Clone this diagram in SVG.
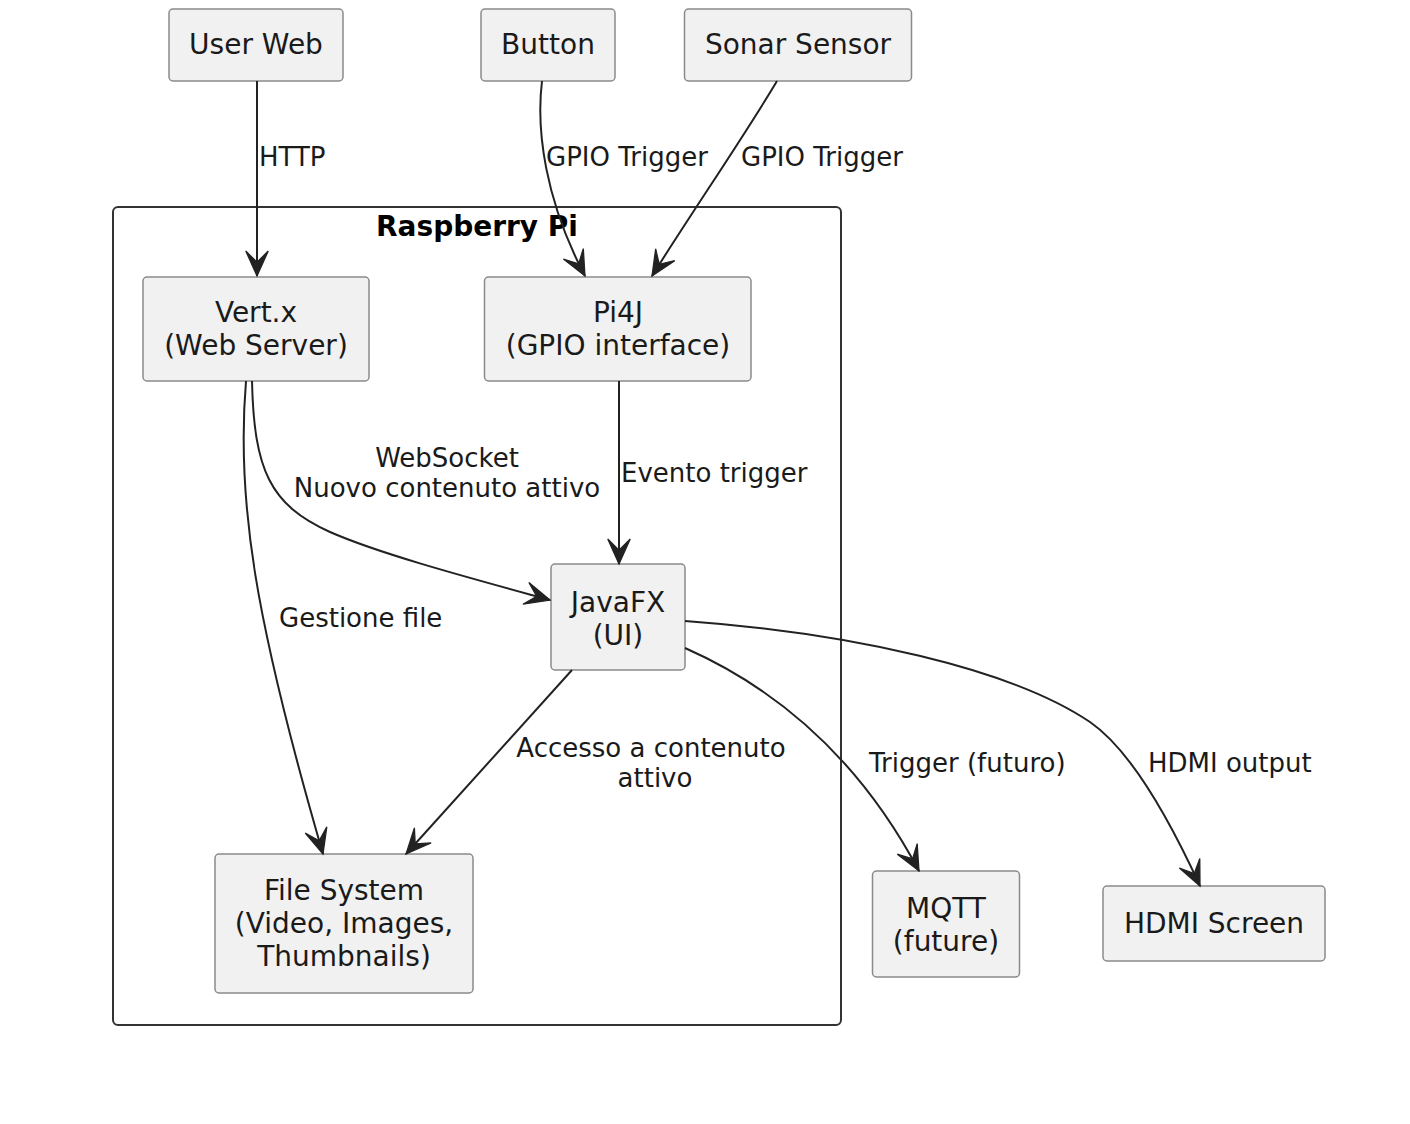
<svg xmlns="http://www.w3.org/2000/svg" width="1410" height="1124" viewBox="0 0 1410 1124">
<style>
.node rect{fill:#F1F1F1;stroke:#8a8a8a;stroke-width:1.5}
.nt{font-family:"DejaVu Sans",sans-serif;font-size:28px;fill:#1a1a1a;text-anchor:middle}
.el{font-family:"DejaVu Sans",sans-serif;font-size:26px;fill:#1a1a1a}
.c{fill:none;stroke:#222;stroke-width:2}
.title{font-family:"DejaVu Sans",sans-serif;font-size:28px;font-weight:bold;fill:#000;text-anchor:middle}
</style>
<defs>
<marker id="ah" markerUnits="userSpaceOnUse" orient="auto" markerWidth="30" markerHeight="30" viewBox="-22 -11 24 22" refX="0" refY="0">
<path d="M0,0 L-20,-9 L-11,0 L-20,9 Z" fill="#222" stroke="#222" stroke-width="1" stroke-linejoin="miter"/>
</marker>
</defs>
<rect width="1410" height="1124" fill="#fff"/>
<g id="raspberry-pi">
<rect x="113" y="207" width="728" height="818" rx="5" fill="none" stroke="#333" stroke-width="2"/>
<text class="title" x="477" y="236">Raspberry Pi</text>
</g>
<g id="user-web" class="node"><rect x="169" y="9" width="174" height="72" rx="4"/><text class="nt" x="256" y="54">User Web</text></g>
<g id="button" class="node"><rect x="481" y="9" width="134" height="72" rx="4"/><text class="nt" x="548" y="54">Button</text></g>
<g id="sonar-sensor" class="node"><rect x="684.5" y="9" width="227" height="72" rx="4"/><text class="nt" x="798" y="54">Sonar Sensor</text></g>
<g id="vertx" class="node"><rect x="143" y="277" width="226" height="104" rx="4"/><text class="nt" x="256" y="322">Vert.x</text><text class="nt" x="256" y="355">(Web Server)</text></g>
<g id="pi4j" class="node"><rect x="484.5" y="277" width="266.5" height="104" rx="4"/><text class="nt" x="618" y="322">Pi4J</text><text class="nt" x="618" y="355">(GPIO interface)</text></g>
<g id="javafx" class="node"><rect x="551" y="564" width="134" height="106" rx="4"/><text class="nt" x="618" y="612">JavaFX</text><text class="nt" x="618" y="645">(UI)</text></g>
<g id="file-system" class="node"><rect x="215" y="854" width="258" height="139" rx="4"/><text class="nt" x="344" y="900">File System</text><text class="nt" x="344" y="933">(Video, Images,</text><text class="nt" x="344" y="966">Thumbnails)</text></g>
<g id="mqtt" class="node"><rect x="872.5" y="871" width="147" height="106" rx="4"/><text class="nt" x="946" y="918">MQTT</text><text class="nt" x="946" y="951">(future)</text></g>
<g id="hdmi-screen" class="node"><rect x="1103" y="886" width="222" height="75" rx="4"/><text class="nt" x="1214" y="933">HDMI Screen</text></g>
<g id="connectors">
<path class="c" marker-end="url(#ah)" d="M257,81 L257,276"/>
<path class="c" marker-end="url(#ah)" d="M542,81 C536,130 545,200 585,276"/>
<path class="c" marker-end="url(#ah)" d="M777,81 C745,135 690,215 652,276"/>
<path class="c" marker-end="url(#ah)" d="M252,381 C254,470 270,505 330,532 C380,554 470,578 550,600"/>
<path class="c" marker-end="url(#ah)" d="M246,381 C236,500 255,620 323,854"/>
<path class="c" marker-end="url(#ah)" d="M619,381 L619,564"/>
<path class="c" marker-end="url(#ah)" d="M572,670 L406,854"/>
<path class="c" marker-end="url(#ah)" d="M685,648 C780,690 860,760 919,871"/>
<path class="c" marker-end="url(#ah)" d="M685,621 C850,633 1010,668 1090,722 C1132,751 1172,825 1200,886"/>
<text class="el" x="259" y="166">HTTP</text>
<text class="el" x="546" y="166">GPIO Trigger</text>
<text class="el" x="741" y="166">GPIO Trigger</text>
<text class="el" x="447" y="467" text-anchor="middle">WebSocket</text>
<text class="el" x="447" y="497" text-anchor="middle">Nuovo contenuto attivo</text>
<text class="el" x="621" y="482">Evento trigger</text>
<text class="el" x="279" y="627">Gestione file</text>
<text class="el" x="651" y="757" text-anchor="middle">Accesso a contenuto</text>
<text class="el" x="655" y="787" text-anchor="middle">attivo</text>
<text class="el" x="869" y="772">Trigger (futuro)</text>
<text class="el" x="1148" y="772">HDMI output</text>
</g>
</svg>
